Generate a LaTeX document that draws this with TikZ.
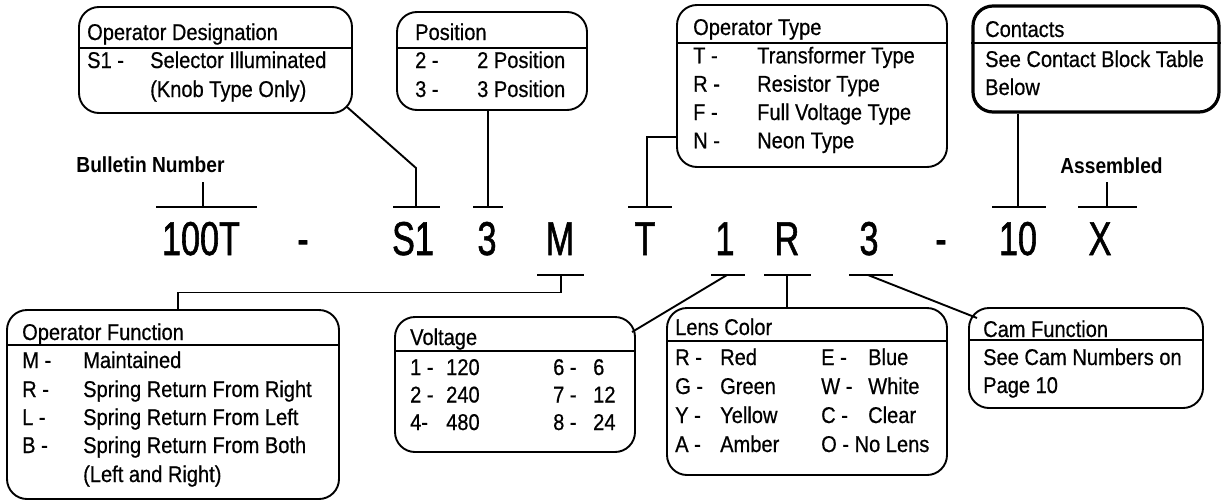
\documentclass[tikz,border=0pt]{standalone}
\usepackage{fontspec}
\usetikzlibrary{calc}
\setmainfont{Liberation Sans}[FakeStretch=0.88,FakeBold=0.6]
\newfontfamily\codefont{Liberation Sans}[FakeStretch=0.72,FakeBold=1.2]
\newfontfamily\lblfont{Liberation Sans}[FakeStretch=0.88]
\begin{document}
\begin{tikzpicture}[x=1pt,y=-1pt,
  box/.style={draw,rounded corners=20pt,line width=1.9pt,inner sep=0pt},
  hdr/.style={line width=1.9pt},
  conn/.style={line width=1.9pt},
  tk/.style={line width=1.9pt},
  txt/.style={anchor=base west,inner sep=0pt,font=\fontsize{22.8}{25}\selectfont},
  code/.style={anchor=base,inner sep=0pt,font=\codefont\fontsize{47.5}{50}\selectfont},
  lbl/.style={anchor=base,inner sep=0pt,font=\lblfont\bfseries\fontsize{21.8}{25}\selectfont}]
\useasboundingbox (0,0) rectangle (1221,501);

% ---------- boxes ----------
\node[box,minimum width=273pt,minimum height=106pt] (b1) at (215.5,60) {};
\node[box,minimum width=190pt,minimum height=98pt] (b2) at (492,61) {};
\node[box,minimum width=270pt,minimum height=162pt] (b3) at (812,86) {};
\node[box,line width=3.2pt,minimum width=246pt,minimum height=106pt] (b4) at (1096,59) {};
\node[box,minimum width=332pt,minimum height=189pt] (b5) at (173,404.5) {};
\node[box,minimum width=240pt,minimum height=135pt] (b6) at (515,384.5) {};
\node[box,minimum width=280pt,minimum height=167pt] (b7) at (807,391.5) {};
\node[box,minimum width=234pt,minimum height=100pt] (b8) at (1086,358) {};

% header lines
\draw[hdr] (b1.west |- 0,48) -- (b1.east |- 0,48);
\draw[hdr] (b2.west |- 0,48) -- (b2.east |- 0,48);
\draw[hdr] (b3.west |- 0,43) -- (b3.east |- 0,43);
\draw[hdr] (b4.west |- 0,43) -- (b4.east |- 0,43);
\draw[hdr] (b5.west |- 0,345) -- (b5.east |- 0,345);
\draw[hdr] (b6.west |- 0,351) -- (b6.east |- 0,351);
\draw[hdr] (b7.west |- 0,341) -- (b7.east |- 0,341);
\draw[hdr] (b8.west |- 0,340) -- (b8.east |- 0,340);

% ---------- box texts ----------
\node[txt] (t1h) at (87,40) {Operator Designation};
\node[txt] (t1a) at (87,68) {S1 -};
\node[txt] (t1b) at (150,68) {Selector Illuminated};
\node[txt] (t1c) at (150,97) {(Knob Type Only)};

\node[txt] (t2h) at (415,40) {Position};
\node[txt] (t2a) at (415,68) {2 -};
\node[txt] (t2b) at (477,68) {2 Position};
\node[txt] (t2c) at (415,97) {3 -};
\node[txt] (t2d) at (477,97) {3 Position};

\node[txt] (t3h) at (693,35) {Operator Type};
\node[txt] (t3a) at (693,63.3) {T -};
\node[txt] (t3b) at (757,63.3) {Transformer Type};
\node[txt] (t3c) at (693,91.7) {R -};
\node[txt] (t3d) at (757,91.7) {Resistor Type};
\node[txt] (t3e) at (693,120) {F -};
\node[txt] (t3f) at (757,120) {Full Voltage Type};
\node[txt] (t3g) at (693,148.3) {N -};
\node[txt] (t3i) at (757,148.3) {Neon Type};

\node[txt] (t4h) at (985,37) {Contacts};
\node[txt] (t4a) at (985,67) {See Contact Block Table};
\node[txt] (t4b) at (985,95) {Below};

\node[txt] (t5h) at (22,340) {Operator Function};
\node[txt] (t5a) at (22,368) {M -};
\node[txt] (t5b) at (83,368) {Maintained};
\node[txt] (t5c) at (22,397) {R -};
\node[txt] (t5d) at (83,397) {Spring Return From Right};
\node[txt] (t5e) at (22,425) {L -};
\node[txt] (t5f) at (83,425) {Spring Return From Left};
\node[txt] (t5g) at (22,453) {B -};
\node[txt] (t5i) at (83,453) {Spring Return From Both};
\node[txt] (t5j) at (83,482) {(Left and Right)};

\node[txt] (t6h) at (410,345) {Voltage};
\node[txt] (t6a) at (410,375) {1 -};
\node[txt] (t6b) at (446,375) {120};
\node[txt] (t6c) at (410,402.5) {2 -};
\node[txt] (t6d) at (446,402.5) {240};
\node[txt] (t6e) at (410,430) {4-};
\node[txt] (t6f) at (446,430) {480};
\node[txt] (t6g) at (553,375) {6 -};
\node[txt] (t6i) at (593,375) {6};
\node[txt] (t6j) at (553,402.5) {7 -};
\node[txt] (t6k) at (593,402.5) {12};
\node[txt] (t6l) at (553,430) {8 -};
\node[txt] (t6m) at (593,430) {24};

\node[txt] (t7h) at (675,335) {Lens Color};
\node[txt] (t7a) at (675,365) {R -};
\node[txt] (t7b) at (720,365) {Red};
\node[txt] (t7c) at (675,394) {G -};
\node[txt] (t7d) at (720,394) {Green};
\node[txt] (t7e) at (675,423) {Y -};
\node[txt] (t7f) at (720,423) {Yellow};
\node[txt] (t7g) at (675,452) {A -};
\node[txt] (t7i) at (720,452) {Amber};
\node[txt] (t7j) at (821,365) {E -};
\node[txt] (t7k) at (868,365) {Blue};
\node[txt] (t7l) at (821,394) {W -};
\node[txt] (t7m) at (868,394) {White};
\node[txt] (t7n) at (821,423) {C -};
\node[txt] (t7o) at (868,423) {Clear};
\node[txt] (t7p) at (821,452) {O - No Lens};

\node[txt] (t8h) at (983,337) {Cam Function};
\node[txt] (t8a) at (983,365) {See Cam Numbers on};
\node[txt] (t8b) at (983,393) {Page 10};

% ---------- bold labels ----------
\node[lbl] (lbn) at (150.5,172) {Bulletin Number};
\node[lbl] (las) at (1111.5,173) {Assembled};

% ---------- catalogue number ----------
\node[code] (c100T) at (201,255) {100T};
\node[code] (cd1) at (303,255) {-};
\node[code] (cS1) at (413,255) {S1};
\node[code] (c3a) at (487,255) {3};
\node[code] (cM) at (560,255) {M};
\node[code] (cT) at (645,255) {T};
\node[code] (c1) at (725,255) {1};
\node[code] (cR) at (787,255) {R};
\node[code] (c3b) at (869,255) {3};
\node[code] (cd2) at (941,255) {-};
\node[code] (c10) at (1018,255) {10};
\node[code] (cX) at (1100,255) {X};

% tick centres
\coordinate (tBN) at (203,207);
\coordinate (tS1) at (416,207);
\coordinate (tP) at (488,207);
\coordinate (tT) at (647,207);
\coordinate (tC) at (1018,207);
\coordinate (tX) at (1107,207);
\coordinate (tM) at (561,275);
\coordinate (t1) at (727,275);
\coordinate (tR) at (787,275);
\coordinate (t3) at (868,275);

% top ticks
\draw[tk] (156,207) -- (257,207);
\draw[tk] (393,207) -- (440,207);
\draw[tk] (473,207) -- (503,207);
\draw[tk] (628,207) -- (672,207);
\draw[tk] (992,207) -- (1046,207);
\draw[tk] (1078,207) -- (1137,207);
% bottom ticks
\draw[tk] (537,275) -- (584,275);
\draw[tk] (711,275) -- (745,275);
\draw[tk] (764,275) -- (811,275);
\draw[tk] (849,275) -- (893,275);

% ---------- connectors ----------
\draw[conn] (tBN) -- (tBN |- 0,182);
\draw[conn] (tX) -- (tX |- 0,182);
\draw[conn] ($(b1.south east)+(-6,-7)$) -- (tS1 |- 0,168) -- (tS1);
\draw[conn] (b2.south -| tP) -- (tP);
\draw[conn] (b3.west |- 0,137) -- (tT |- 0,137) -- (tT);
\draw[conn] (b4.south -| tC) -- (tC);
\draw[conn] (tM) -- (tM |- 0,292.5) -- (178,292.5) -- (b5.north -| 178,0);
\draw[conn] (t1) -- (632,332);
\draw[conn] (tR) -- (b7.north -| tR);
\draw[conn] (t3) -- (977,318);
\end{tikzpicture}
\end{document}
